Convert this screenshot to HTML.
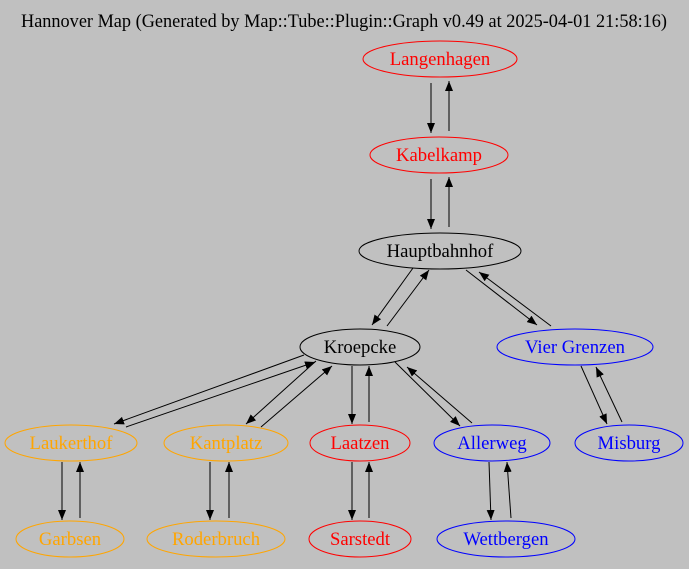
<!DOCTYPE html>
<html><head><meta charset="utf-8"><style>
html,body{margin:0;padding:0;background:#c0c0c0;}
svg{display:block;}
text{font-family:"Liberation Serif","Times New Roman",serif;font-size:18.67px;text-anchor:middle;}
</style></head><body>
<svg width="689" height="569" viewBox="0 0 689 569" xmlns="http://www.w3.org/2000/svg">
<defs>
<marker id="a" markerWidth="10" markerHeight="8" refX="10" refY="4" orient="auto" markerUnits="userSpaceOnUse">
<path d="M0,0 L10,4 L0,8 Z" fill="#000"/>
</marker>
</defs>
<rect width="689" height="569" fill="#c0c0c0"/>
<text x="344" y="27" textLength="646" lengthAdjust="spacingAndGlyphs">Hannover Map (Generated by Map::Tube::Plugin::Graph v0.49 at 2025-04-01 21:58:16)</text>
<g stroke="#000" stroke-width="1" fill="none" marker-end="url(#a)">
<line x1="431" y1="83" x2="431" y2="133"/>
<line x1="449" y1="131" x2="449" y2="81"/>
<line x1="431" y1="179" x2="431" y2="229"/>
<line x1="449" y1="227" x2="449" y2="177"/>
<line x1="413" y1="268" x2="372" y2="325"/>
<line x1="387" y1="326" x2="429" y2="270"/>
<line x1="466" y1="270" x2="537" y2="325"/>
<line x1="551" y1="326" x2="479" y2="272"/>
<line x1="581" y1="366" x2="607" y2="424"/>
<line x1="622" y1="422" x2="596" y2="367"/>
<line x1="304" y1="355" x2="114" y2="424"/>
<line x1="126" y1="427" x2="315" y2="362"/>
<line x1="316" y1="361" x2="246" y2="424"/>
<line x1="261" y1="427" x2="332" y2="366"/>
<line x1="352" y1="366" x2="352" y2="424"/>
<line x1="369" y1="422" x2="369" y2="366"/>
<line x1="395" y1="362" x2="460" y2="426"/>
<line x1="472" y1="423" x2="407" y2="367"/>
<line x1="62" y1="462" x2="62" y2="520"/>
<line x1="80" y1="518" x2="80" y2="462"/>
<line x1="210" y1="462" x2="210" y2="520"/>
<line x1="229" y1="518" x2="229" y2="462"/>
<line x1="352" y1="462" x2="352" y2="520"/>
<line x1="369" y1="518" x2="369" y2="462"/>
<line x1="489" y1="462" x2="491" y2="520"/>
<line x1="511" y1="518" x2="507" y2="462"/>
</g>
<g fill="none" stroke-width="1">
<ellipse cx="440" cy="59" rx="77" ry="18" stroke="#ff0000"/>
<ellipse cx="439" cy="155" rx="69" ry="18" stroke="#ff0000"/>
<ellipse cx="440" cy="251" rx="81" ry="18" stroke="#000"/>
<ellipse cx="360" cy="347" rx="60" ry="18" stroke="#000"/>
<ellipse cx="575" cy="347" rx="78" ry="18" stroke="#0000ff"/>
<ellipse cx="71" cy="443" rx="66" ry="18" stroke="#ffa500"/>
<ellipse cx="226" cy="443" rx="62" ry="18" stroke="#ffa500"/>
<ellipse cx="360" cy="443" rx="50" ry="18" stroke="#ff0000"/>
<ellipse cx="492" cy="443" rx="58" ry="18" stroke="#0000ff"/>
<ellipse cx="629" cy="443" rx="54" ry="18" stroke="#0000ff"/>
<ellipse cx="70" cy="539" rx="54" ry="18" stroke="#ffa500"/>
<ellipse cx="216" cy="539" rx="69" ry="18" stroke="#ffa500"/>
<ellipse cx="360" cy="539" rx="51" ry="18" stroke="#ff0000"/>
<ellipse cx="506" cy="539" rx="69" ry="18" stroke="#0000ff"/>
</g>
<text x="440" y="65" fill="#ff0000">Langenhagen</text>
<text x="439" y="161" fill="#ff0000">Kabelkamp</text>
<text x="440" y="257" fill="#000">Hauptbahnhof</text>
<text x="360" y="353" fill="#000">Kroepcke</text>
<text x="575" y="353" fill="#0000ff">Vier Grenzen</text>
<text x="71" y="449" fill="#ffa500">Laukerthof</text>
<text x="226" y="449" fill="#ffa500">Kantplatz</text>
<text x="360" y="449" fill="#ff0000">Laatzen</text>
<text x="492" y="449" fill="#0000ff">Allerweg</text>
<text x="629" y="449" fill="#0000ff">Misburg</text>
<text x="70" y="545" fill="#ffa500">Garbsen</text>
<text x="216" y="545" fill="#ffa500">Roderbruch</text>
<text x="360" y="545" fill="#ff0000">Sarstedt</text>
<text x="506" y="545" fill="#0000ff">Wettbergen</text>
</svg>
</body></html>
